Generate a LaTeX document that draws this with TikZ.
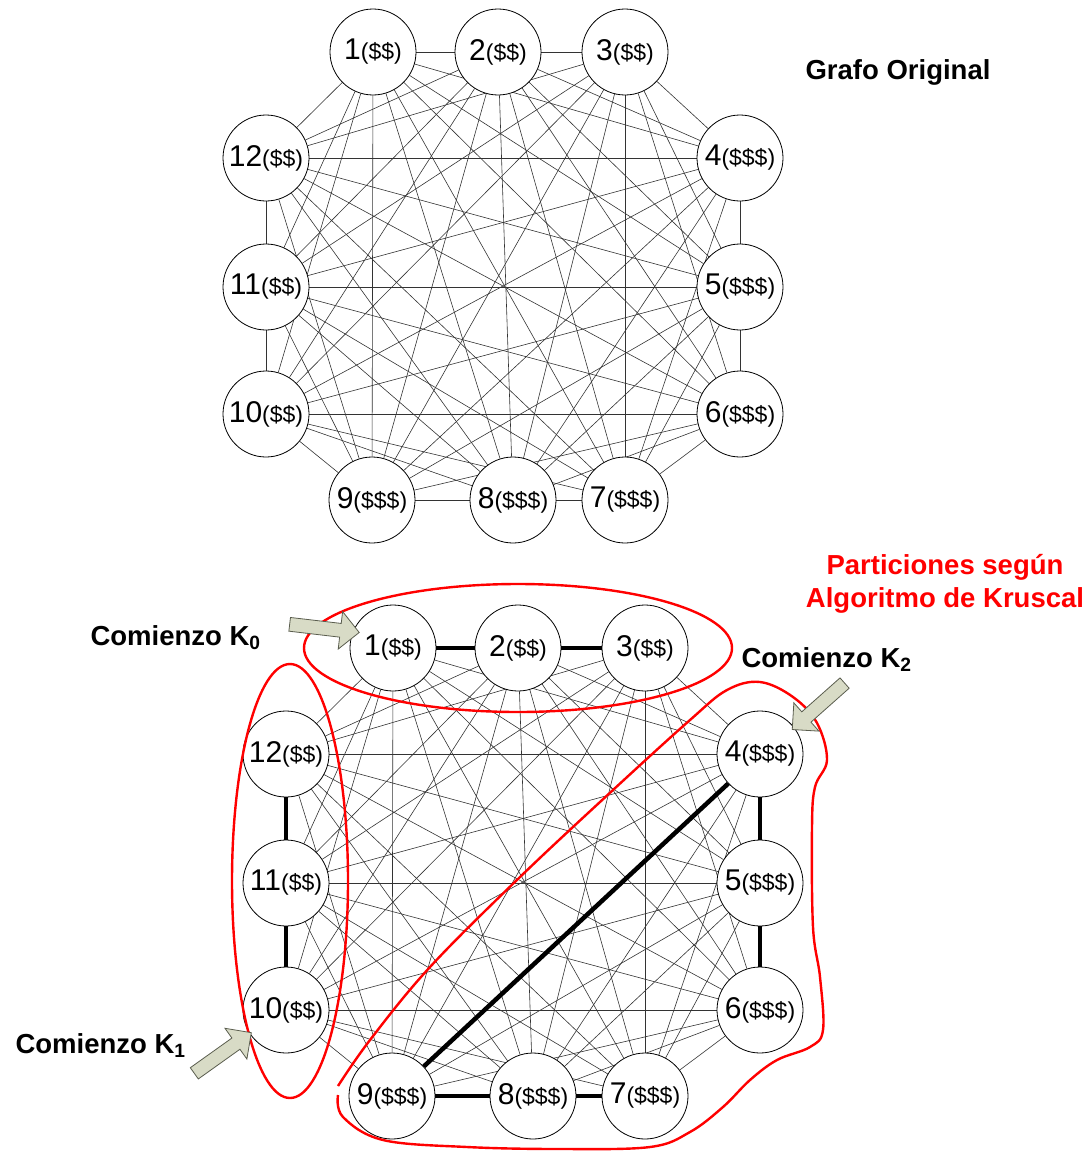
\documentclass[tikz,border=0pt]{standalone}
\usepackage{fontspec}
\setmainfont{Liberation Sans}
\usetikzlibrary{positioning,shapes.arrows,backgrounds}

\definecolor{arrowfill}{HTML}{D8DBC6}
\definecolor{arrowdraw}{HTML}{5A5D4E}
\newcommand{\cost}[1]{{\fontsize{23}{24}\selectfont(#1)}}

\begin{document}
\begin{tikzpicture}[
  x=1pt,y=-1pt,
  vertex/.style={circle,draw=black,fill=white,line width=0.8pt,minimum size=86pt,
                 inner sep=0pt,font=\fontsize{30}{30}\selectfont},
  edge/.style={black!80,line width=0.6pt},
  mst/.style={black,line width=4.5pt},
  part/.style={red,line width=2.4pt},
  startarr/.style={single arrow,draw=arrowdraw,fill=arrowfill,line width=0.8pt,
                   minimum height=70pt,inner xsep=0pt,inner ysep=6.5pt,
                   single arrow head extend=12pt},
  title/.style={font=\fontsize{27.5}{33}\selectfont\bfseries},
]
\useasboundingbox (0,0) rectangle (1092,1151);

% ---- original graph (top) and partitioned graph (bottom) ----
\foreach \n/\x/\y/\c in {1/373/52/\$\$, 2/498/52/\$\$, 3/625/52/\$\$,
    4/740/158/\$\$\$, 5/740/287/\$\$\$, 6/740/414/\$\$\$,
    7/625/500/\$\$\$, 8/513/500/\$\$\$, 9/372/500/\$\$\$,
    10/266/414/\$\$, 11/266/287/\$\$, 12/266/158/\$\$}{
  \node[vertex] (a\n) at (\x,\y) {\n\cost{\c}};
  \node[vertex] (b\n) at ({\x+20},{\y+596}) {\n\cost{\c}};
}

% ---- complete graph K12 ----
\begin{scope}[on background layer]
\foreach \i in {1,...,11}{
  \pgfmathtruncatemacro\k{\i+1}
  \foreach \j in {\k,...,12}{
    \draw[edge] (a\i) -- (a\j);
    \draw[edge] (b\i) -- (b\j);
  }
}
\foreach \u/\v in {1/2,2/3,12/11,11/10,4/5,5/6,9/8,8/7,9/4}
  \draw[mst] (b\u) -- (b\v);
\end{scope}

% ---- partitions ----
\draw[part] (518,648) ellipse [x radius=214, y radius=64];
\draw[part] (290,881) ellipse [x radius=58, y radius=217];
\draw[part] plot[smooth,tension=0.6] coordinates {(338,1086) (370,1040) (430,967)
  (520,877) (613,790) (690,720) (727,690) (760,682) (793,697) (817,723) (827,760)
  (815,787) (812,827) (813,927) (820,977) (823,1030) (810,1047) (777,1060)
  (750,1080) (723,1107) (690,1132) (650,1147) (560,1149) (467,1147) (383,1140)
  (343,1117) (338,1095)};

% ---- starting points ----
\node[startarr,rotate=-6.7] (arr0) at (321,628) {};
\node[startarr,rotate=221.6] (arr2) at (821,704) {};
\node[startarr,rotate=35.5] (arr1) at (220,1055) {};

\node[title,anchor=base west] (k0) at (87,645) {Comienzo K\textsubscript{0}};
\node[title,anchor=base west] (k2) at (738,667) {Comienzo K\textsubscript{2}};
\node[title,anchor=base west] (k1) at (12,1053) {Comienzo K\textsubscript{1}};

\node[title,anchor=base] (orig) at (898,79) {Grafo Original};
\node[title,red,align=center] (kruscal) at (945,584)
  {Particiones según\\Algoritmo de Kruscal};
\end{tikzpicture}
\end{document}
